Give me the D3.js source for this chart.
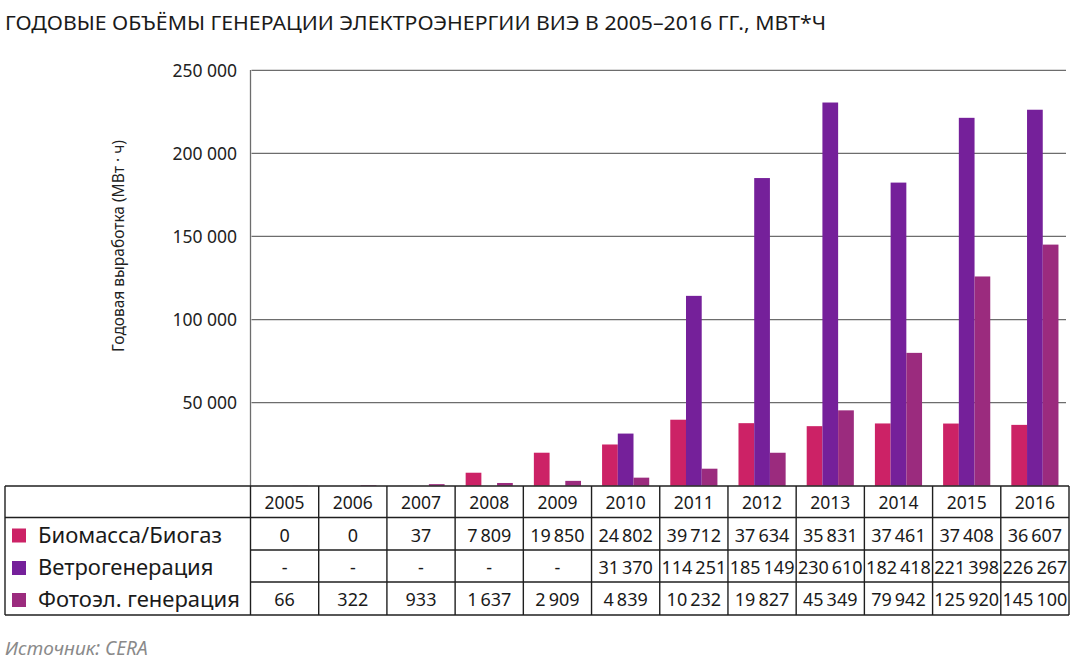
<!DOCTYPE html>
<html><head><meta charset="utf-8">
<script src="https://cdn.jsdelivr.net/npm/d3@7"></script>
<style>body{margin:0;background:#fff}svg{display:block}text{font-family:"Noto Sans",sans-serif}</style>
</head><body><svg id="c" width="1078" height="667"></svg>
<script>
const years = ["2005","2006","2007","2008","2009","2010","2011","2012","2013","2014","2015","2016"];
const seriesNames = ["Биомасса/Биогаз","Ветрогенерация","Фотоэл. генерация"];
const seriesColors = ["#cc2266","#75209a","#9b2b7e"];
const biomass = [0,0,37,7809,19850,24802,39712,37634,35831,37461,37408,36607];
const wind = [null,null,null,null,null,31370,114251,185149,230610,182418,221398,226267];
const solar = [66,322,933,1637,2909,4839,10232,19827,45349,79942,125920,145100];
const yTicks = [50000,100000,150000,200000,250000];
const series = [biomass, wind, solar];

(function(){
const svg = d3.select("#c");
const fmt = v => v === null ? "-" : d3.format(",")(v).replace(/,/g, "\u2009");
const tickFmt = v => d3.format(",")(v).replace(/,/g, " ");

const pLeft = 250.5, pRight = 1069, pTop = 70.3, base = 485.7;
const x0 = d3.scaleBand().domain(years).range([pLeft, pRight]).padding(0);
const x1 = d3.scaleBand().domain([0,1,2]).range([0, x0.bandwidth()]).paddingInner(0).paddingOuter(0.67);
const y = d3.scaleLinear().domain([0, 250000]).range([base, pTop]);

svg.append("text").attr("x",5).attr("y",30).attr("font-size",20).attr("fill","#1a1a1a")
  .attr("textLength",821).attr("lengthAdjust","spacingAndGlyphs")
  .text("ГОДОВЫЕ ОБЪЁМЫ ГЕНЕРАЦИИ ЭЛЕКТРОЭНЕРГИИ ВИЭ В 2005–2016 ГГ., МВТ*Ч");

const g = svg.append("g");
g.selectAll("line.grid").data(yTicks).join("line").attr("class","grid")
  .attr("x1",pLeft+1).attr("x2",1066).attr("y1",d=>y(d)).attr("y2",d=>y(d))
  .attr("stroke","#6d6d6d").attr("stroke-width",1.3);
g.selectAll("text.tick").data(yTicks).join("text").attr("class","tick")
  .attr("x",237).attr("y",d=>y(d)+6.5).attr("text-anchor","end").attr("font-size",17.5).attr("fill","#222")
  .text(tickFmt);
svg.append("text").attr("transform","translate(124,246) rotate(-90)").attr("text-anchor","middle")
  .attr("font-size",15.5).attr("fill","#222").text("Годовая выработка (МВт · ч)");

series.forEach((arr, si) => {
  svg.append("g").selectAll("rect").data(years.map((yr,i)=>({yr, v:arr[i]})).filter(d=>d.v!==null))
    .join("rect")
    .attr("x", d => x0(d.yr) + x1(si))
    .attr("width", x1.bandwidth())
    .attr("y", d => y(d.v))
    .attr("height", d => base - y(d.v))
    .attr("fill", seriesColors[si]);
});

svg.append("line").attr("x1",pLeft).attr("x2",pLeft).attr("y1",70).attr("y2",486).attr("stroke","#6d6d6d").attr("stroke-width",1.3);

const tTop = 486;
const rows = [tTop, tTop+31.5, tTop+64, tTop+96, tTop+129];
const tl = svg.append("g").attr("stroke","#1f1f1f").attr("stroke-width",1.4);
[0,1,4].forEach(i => tl.append("line").attr("x1",5).attr("x2",pRight).attr("y1",rows[i]).attr("y2",rows[i]));
[2,3].forEach(i => tl.append("line").attr("x1",pLeft).attr("x2",pRight).attr("y1",rows[i]).attr("y2",rows[i]));
tl.append("line").attr("x1",5).attr("x2",5).attr("y1",rows[0]).attr("y2",rows[4]);
tl.selectAll("line.v").data(years).join("line").attr("class","v")
  .attr("x1",d=>x0(d)).attr("x2",d=>x0(d)).attr("y1",rows[0]).attr("y2",rows[4]);
tl.append("line").attr("x1",pRight).attr("x2",pRight).attr("y1",rows[0]).attr("y2",rows[4]);

svg.append("g").selectAll("text").data(years).join("text")
  .attr("x",d=>x0(d)+x0.bandwidth()/2).attr("y",rows[0]+23).attr("text-anchor","middle")
  .attr("font-size",17.5).attr("fill","#1a1a1a").text(d=>d);

series.forEach((arr, si) => {
  const ry = rows[si+1] + 24;
  svg.append("g").selectAll("text").data(years.map((yr,i)=>({yr, v:arr[i]}))).join("text")
    .attr("x",d=>x0(d.yr)+x0.bandwidth()/2).attr("y",ry).attr("text-anchor","middle")
    .attr("font-size",18).attr("fill","#1a1a1a").text(d=>fmt(d.v));
  svg.append("rect").attr("x",12).attr("y",ry-13).attr("width",14).attr("height",14).attr("fill",seriesColors[si]);
  svg.append("text").attr("x",38).attr("y",ry+1).attr("font-size",22).attr("fill","#1a1a1a").text(seriesNames[si]);
});

svg.append("text").attr("x",5).attr("y",655).attr("font-size",19).attr("font-style","italic").attr("fill","#8a8a8a")
  .text("Источник: CERA");
})();
</script></body></html>
